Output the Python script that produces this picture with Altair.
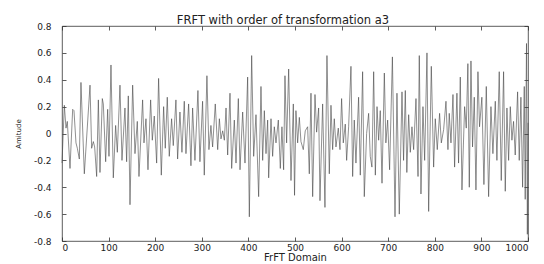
import altair as alt
import pandas as pd

# Amplitude samples (extrema) along the FrFT domain
x_vals = [
    0, 5, 8.6, 11.4, 17.2, 22.9, 25.7, 30, 32.9, 37.2, 40.7, 47.9, 60.1, 63.6, 67.2, 70.1,
    74.4, 78, 81.5, 86.5, 88.7, 93.7, 98, 100.8, 105.1, 110.1, 115.1, 118.7, 124.4, 128.7,
    135.1, 138.7, 142.3, 145.9, 151.6, 156.6, 161.6, 165.2, 173, 175.9, 180.2, 184.5, 190.2,
    193.8, 198, 203.1, 207.3, 213.1, 218.1, 221.6, 225.9, 230.2, 235.2, 238.8, 244.5, 248.1,
    253.1, 257.4, 262.4, 266, 271.7, 276.7, 280.3, 285.3, 291.7, 296, 301.7, 305.3, 311,
    315.3, 319.6, 323.2, 328.9,
    334.1, 337.7, 341.2, 344.8, 348.4, 352, 355.5, 360.5, 364.1, 369.8, 373.4, 378.4, 382,
    387.7, 392.7, 398.4, 402, 407, 411.3, 416.3, 422, 427, 430.6, 434.2, 437.8, 441.3, 443.5,
    448.5, 452, 455.6, 459.2, 464.2, 468.5, 472, 475.6, 478.5, 482, 486.4, 491.4, 496.4, 499,
    502, 505.7, 509.3, 512.8, 517.8, 522, 527.1, 530.7, 534.3, 537.9, 542.9, 546.4, 550.7,
    553.6, 559.3, 564.3, 568.6, 573.6, 577.2, 580.8, 584.3, 587.9, 592.9, 596.5, 600, 603.6,
    607.9, 610.8, 615.1, 620.1, 623.7, 627.2, 630.8, 636.5, 640.1, 645.1, 648.7, 653.7, 658,
    661.5, 665.1,
    668.8, 672.4, 676, 679.5, 683, 686.7, 691.7, 695, 698.8, 703, 709, 714.6, 718.8, 723.8,
    729.6, 733, 736.7, 740, 743.9, 747.4, 751, 754.6, 759.6, 764, 766.7, 770.3, 774.6, 778.2,
    783.2, 786.8, 792.5, 797.5, 801, 805.3, 810.3, 814, 819, 824, 828.2, 831, 834.7, 839,
    842.5, 847.5, 851, 854.7, 858.3, 864, 867.5, 871, 874, 877.6, 881, 884.7, 888.3, 892.6,
    896, 901, 905.4, 910.5, 915.5, 920.5, 924.7, 929.8, 933.3, 938.3, 942.6, 947.6, 951.2,
    954.8, 958.4, 962, 965.5, 969, 972.6, 977.7, 981.2, 984.8, 988.4, 992, 994, 996.8, 998.6, 1000,
]
y_vals = [
    -0.22, 0.21, 0.04, 0.09, -0.26, 0.18, 0.17, -0.07, -0.11, -0.19, 0.38, -0.30, 0.36, -0.11, -0.06, -0.10,
    -0.32, 0.25, -0.29, 0.26, 0.22, -0.21, 0.18, -0.17, 0.51, -0.33, 0.06, -0.14, 0.36, -0.20,
    0.19, -0.21, 0.28, -0.53, 0.36, -0.15, 0.09, -0.32, 0.25, -0.07, 0.11, -0.27, 0.25,
    -0.05, 0.13, -0.22, 0.41, -0.31, 0.20, -0.11, 0.27, -0.17, 0.11, -0.09, 0.25, -0.19,
    0.16, -0.14, 0.24, -0.15, 0.22, -0.24, 0.19, -0.20, 0.32, -0.21, 0.24, -0.31, 0.43,
    -0.12, 0.06, -0.10, 0.22,
    -0.12, 0.11, -0.04, 0.02, -0.05, 0.19, -0.16, 0.30, -0.26, 0.10, -0.22, 0.26, -0.27,
    0.16, -0.22, 0.42, -0.62, 0.58, -0.17, 0.14, -0.47, 0.35, -0.20, 0.17, -0.15, 0.10, -0.33,
    0.11, -0.17, 0.05, -0.07, 0.10, -0.26, 0.05, -0.27, 0.43, -0.07, 0.48, -0.35, 0.22, -0.46,
    0.17, -0.07, 0.12, -0.06, -0.12, 0.02, 0.05, -0.30, 0.30, -0.47, 0.29, 0.01, 0.19,
    -0.50, 0.22, -0.55, 0.58, -0.30, 0.21, -0.12, 0.11, -0.10, 0.04, -0.12, 0.26, -0.07,
    0.07, -0.20, 0.05, 0.50, -0.32, 0.10, -0.22, 0.27, -0.31, 0.46, -0.47, 0.00, 0.15,
    -0.17, -0.25,
    0.46, -0.31, 0.20, -0.05, 0.17, -0.37, 0.45, -0.07, 0.10, -0.27, 0.57, -0.62, 0.30, -0.60,
    0.31, -0.20, 0.32, -0.29, 0.14, -0.14, 0.05, -0.12, 0.26, -0.32, 0.58, -0.45, 0.20, -0.20,
    0.60, -0.58, 0.50, -0.25, 0.11, -0.12, 0.15, -0.07, 0.03, 0.24, -0.12, 0.15, -0.07, 0.29,
    -0.25, 0.30, -0.22, 0.42, -0.42, 0.20, 0.04, 0.52, -0.40, 0.54, -0.10, 0.27, -0.42, 0.46,
    0.05, 0.27, -0.38, 0.35, -0.47, 0.20, -0.15, 0.24, -0.20, 0.46, -0.35, 0.46, -0.43,
    0.19, -0.20, 0.20, -0.05, 0.09, -0.16, 0.31, -0.20, 0.27, -0.40, 0.35, -0.49, 0.67, -0.75, 0.08,
]
x_ticks = [0, 100, 200, 300, 400, 500, 600, 700, 800, 900, 1000]
y_ticks = [-0.8, -0.6, -0.4, -0.2, 0, 0.2, 0.4, 0.6, 0.8]

df = pd.DataFrame({"x": x_vals, "y": y_vals})

font = "DejaVu Sans"
txt = "#222222"
xs = alt.Scale(domain=[0, 1000], nice=False, zero=False)
ys = alt.Scale(domain=[-0.8, 0.8], nice=False, zero=False)

common = dict(domain=False, grid=False, tickSize=4, offset=-4, tickColor="#333333",
              tickWidth=0.8, labelFont=font, labelFontSize=9, labelColor=txt,
              titleFont=font, titleColor=txt, titleFontWeight="normal")

ylabel = "datum.value == 0 ? '0' : replace(format(datum.value, '.1f'), '\u2212', '-')"

line = alt.Chart(df).mark_line(color="#444444", strokeWidth=0.6).encode(
    x=alt.X("x:Q", scale=xs, title="FrFT Domain",
            axis=alt.Axis(values=x_ticks, format="d", labelPadding=2,
                          titleFontSize=10, titlePadding=0, **common)),
    y=alt.Y("y:Q", scale=ys, title="Amitude",
            axis=alt.Axis(values=y_ticks, labelExpr=ylabel, labelPadding=11,
                          titleFontSize=7, titlePadding=12, **common)),
)

frame = alt.Chart(df).mark_line(strokeOpacity=0).encode(
    x=alt.X("x:Q", scale=xs, title="",
            axis=alt.Axis(orient="top", values=x_ticks, labels=False, **common)),
    y=alt.Y("y:Q", scale=ys, title="",
            axis=alt.Axis(orient="right", values=y_ticks, labels=False, **common)),
)

chart = alt.layer(line, frame).resolve_axis(
    x="independent", y="independent"
).properties(
    width=466,
    height=215,
    title=alt.TitleParams("FRFT with order of transformation a3", font=font,
                          fontSize=11.5, fontWeight="normal", color=txt, offset=5,
                          dx=-12, dy=9),
    autosize=alt.AutoSizeParams(type="none"),
    padding={"left": 54, "top": 18, "right": 8, "bottom": 23},
).configure_view(stroke="#333333", strokeWidth=0.8)

chart.save("out.html", embed_options={"renderer": "svg", "actions": False})
